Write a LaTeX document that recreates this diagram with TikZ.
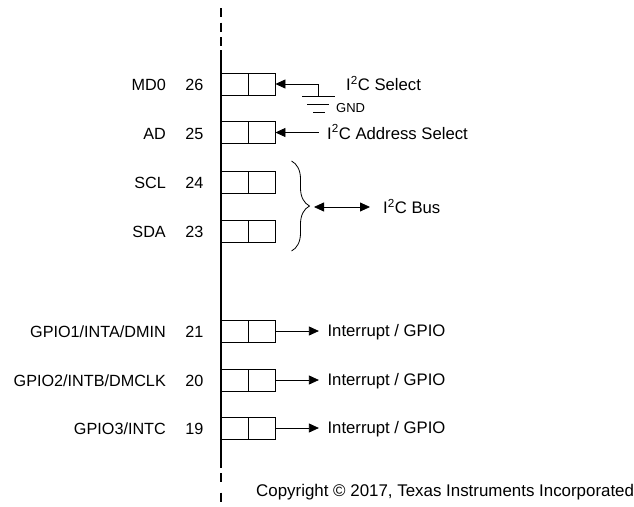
\documentclass[tikz,border=0pt]{standalone}
\usepackage{fontspec}
\setmainfont{Liberation Sans}
\usetikzlibrary{positioning,arrows.meta,decorations.pathreplacing}

\begin{document}
\begin{tikzpicture}[x=1pt,y=-1pt,>={Triangle[length=10pt,width=9pt]},node distance=27pt,on grid,
  cell/.style={draw,line width=0.8pt,minimum width=27pt,minimum height=22pt,inner sep=0pt},
  pinname/.style={anchor=east,inner sep=0pt,font=\fontsize{16.2}{19}\selectfont},
  note/.style={anchor=west,inner xsep=8.5pt,inner ysep=0pt,font=\fontsize{16.7}{19}\selectfont},
  rail/.style={line width=2pt},
  link/.style={line width=0.8pt}]
  \useasboundingbox (0,0) rectangle (634,506);
  % pins
  \foreach \num/\name/\ypos in {26/MD0/85,25/AD/133.5,24/SCL/183,23/SDA/232,
      21/GPIO1\slash INTA\slash DMIN/332,20/GPIO2\slash INTB\slash DMCLK/381,19/GPIO3\slash INTC/429}{
    \node[cell] (a\num) at (234.5,\ypos-1) {};
    \node[cell] (b\num) [right=of a\num] {};
    \node[pinname] (n\num) at (203.5,\ypos) {\num};
    \node[pinname] (t\num) at (166,\ypos) {\name};
  }
  % rail
  \coordinate (railtop) at (221,8);
  \coordinate (railup) at (221,50);
  \coordinate (raildown) at (221,468);
  \coordinate (railend) at (221,506);
  \draw[rail,dash pattern=on 9pt off 5.5pt] (railtop) -- (railup);
  \draw[rail] (railup) -- (raildown);
  \draw[rail,dash pattern=on 0pt off 5pt on 9pt off 5.5pt] (raildown) -- (railend);
  % ground
  \coordinate (gndtop) at (318,84);
  \coordinate (gnd1l) at (302,96);
  \coordinate (gnd1r) at (335,96);
  \coordinate (gnd2l) at (307,104);
  \coordinate (gnd2r) at (329,104);
  \coordinate (gnd3l) at (313,112.5);
  \coordinate (gnd3r) at (325,112.5);
  \draw[link,->] (gndtop) -- (b26.east);
  \draw[link] (gndtop) -- (gndtop |- gnd1l);
  \draw[link] (gnd1l) -- (gnd1r);
  \draw[link] (gnd2l) -- (gnd2r);
  \draw[link] (gnd3l) -- (gnd3r);
  \node[anchor=west,inner sep=0pt,font=\fontsize{13}{15}\selectfont] (gnd) at (336,108.5) {GND};
  % i2c
  \node[note] (sel) at (337.5,83.5) {I\textsuperscript{2}C Select};
  \node[note] (adr) at (318.5,132) {I\textsuperscript{2}C Address Select};
  \draw[link,->] (adr.west |- b25.east) -- (b25.east);
  \coordinate (bracetop) at (291.5,161);
  \coordinate (bracebot) at (291.5,251);
  \coordinate (bracetip) at (314,207);
  \coordinate (busend) at (370,207);
  \draw[decorate,decoration={brace,amplitude=18pt},line width=0.8pt] (bracetop) -- (bracebot);
  \node[note] (bus) at (374.5,206.5) {I\textsuperscript{2}C Bus};
  \draw[link,<->] (bracetip) -- (busend);
  % gpio
  \foreach \num in {21,20,19}{
    \node[note] (g\num) at (b\num.east) [xshift=43.5pt,yshift=-1pt] {Interrupt / GPIO};
    \draw[link,->] (b\num.east) -- (g\num.west |- b\num.east);
  }
  \node[note,font=\fontsize{16.9}{19}\selectfont] (copy) at (247.5,492) {Copyright © 2017, Texas Instruments Incorporated};
\end{tikzpicture}
\end{document}
